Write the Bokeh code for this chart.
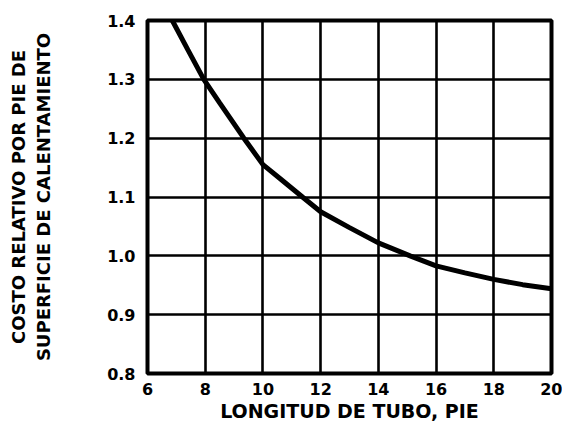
from bokeh.plotting import figure
from bokeh.models import FixedTicker, Range1d
from bokeh.embed import file_html
from bokeh.resources import INLINE

# Data
longitud = [6.86, 7.4, 7.95, 8.5, 9.34, 10.0, 10.6, 11.37, 12.0, 13.0, 14.0, 15.1, 16.0, 17.0, 18.0, 19.0, 20.0]
costo = [1.4, 1.35, 1.3, 1.26, 1.2, 1.155, 1.131, 1.1, 1.075, 1.048, 1.022, 1.0, 0.983, 0.971, 0.96, 0.951, 0.944]

x_ticks = [6, 8, 10, 12, 14, 16, 18, 20]
y_ticks = [0.8, 0.9, 1.0, 1.1, 1.2, 1.3, 1.4]
y_tick_labels = {0.8: "0.8", 0.9: "0.9", 1.0: "1.0", 1.1: "1.1", 1.2: "1.2", 1.3: "1.3", 1.4: "1.4"}

x_title = "LONGITUD DE TUBO, PIE"
y_title = "COSTO RELATIVO POR PIE DE\nSUPERFICIE DE CALENTAMIENTO"

FONT = "DejaVu Sans"

p = figure(width=562, height=435, output_backend="svg", toolbar_location=None,
           x_range=Range1d(6, 20), y_range=Range1d(0.8, 1.4),
           min_border_left=147, min_border_right=11, min_border_top=20, min_border_bottom=62)

p.background_fill_color = "white"
p.border_fill_color = "white"
p.outline_line_color = "black"
p.outline_line_width = 4

p.xaxis.ticker = FixedTicker(ticks=x_ticks)
p.yaxis.ticker = FixedTicker(ticks=y_ticks)
p.yaxis.major_label_overrides = y_tick_labels

for ax in (p.xaxis, p.yaxis):
    ax.axis_line_color = None
    ax.major_tick_line_color = None
    ax.minor_tick_line_color = None
    ax.major_label_text_font = FONT
    ax.major_label_text_font_style = "bold"
    ax.major_label_text_font_size = "16px"
    ax.major_label_text_color = "black"
    ax.axis_label_text_font = FONT
    ax.axis_label_text_font_style = "bold"
    ax.axis_label_text_color = "black"

p.xaxis.major_label_standoff = 3
p.yaxis.major_label_standoff = 6
p.xaxis.axis_label = x_title
p.yaxis.axis_label = y_title
p.xaxis.axis_label_text_font_size = "19px"
p.yaxis.axis_label_text_font_size = "18px"
p.xaxis.axis_label_standoff = 2
p.yaxis.axis_label_standoff = 50

p.xgrid.ticker = FixedTicker(ticks=x_ticks)
p.ygrid.ticker = FixedTicker(ticks=y_ticks)
for g in (p.xgrid, p.ygrid):
    g.grid_line_color = "black"
    g.grid_line_width = 2.6
    g.grid_line_alpha = 1.0

p.line(longitud, costo, line_color="black", line_width=5)

open("out.html", "w").write(file_html(p, INLINE))
